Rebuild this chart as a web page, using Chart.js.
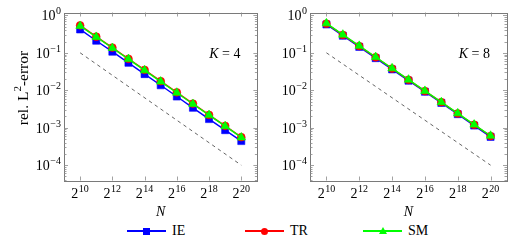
<!DOCTYPE html>
<html lang="en">
<head>
  <meta charset="UTF-8">
  <script src="https://cdn.jsdelivr.net/npm/chart.js"></script>
  <title>rel. L2-error vs N</title>
  <style>
    body { margin: 0; background: #fff; }
    #wrap { position: relative; width: 526px; height: 240px; font-family: "Liberation Serif", "Times New Roman", Times, serif; }
    canvas { position: absolute; top: 0; }
    #c1 { left: 0; }
    #c2 { left: 263px; }
    .lg-line { position: absolute; height: 1.4px; }
    .lg-text { position: absolute; font-size: 14px; line-height: 14px; }
  </style>
</head>
<body>
  <div id="wrap">
    <canvas id="c1" width="263" height="222"></canvas>
    <canvas id="c2" width="263" height="222"></canvas>
    <div id="legend"></div>
  </div>
  <script>
    // Data
    const nValues = [1024, 2048, 4096, 8192, 16384, 32768, 65536, 131072, 262144, 524288, 1048576];

    const ieK4 = [0.42, 0.21, 0.107, 0.054, 0.027, 0.0136, 0.0068, 0.0034, 0.0017, 0.00086, 0.00044];
    const trK4 = [0.54, 0.27, 0.138, 0.069, 0.035, 0.0175, 0.0088, 0.0044, 0.0022, 0.00112, 0.00056];
    const smK4 = [0.52, 0.265, 0.134, 0.068, 0.034, 0.017, 0.0086, 0.0043, 0.00217, 0.0011, 0.00055];

    const ieK8 = [0.57, 0.285, 0.144, 0.072, 0.036, 0.018, 0.0091, 0.0046, 0.0023, 0.00114, 0.00057];
    const trK8 = [0.6, 0.3, 0.151, 0.076, 0.038, 0.019, 0.0095, 0.0048, 0.0024, 0.0012, 0.0006];
    const smK8 = [0.61, 0.305, 0.153, 0.077, 0.0385, 0.0192, 0.0096, 0.0048, 0.00242, 0.00121, 0.00061];

    // dashed reference line, slope -1
    const refN = [1024, 1048576];
    const refErr = [0.1, 0.0001];

    const xTickExp = [10, 12, 14, 16, 18, 20];
    const yTickExp = [0, -1, -2, -3, -4];

    const seriesNames = ['IE', 'TR', 'SM'];
    const seriesColors = ['#0000ff', '#ff0000', '#00ff00'];
    const seriesMarkers = ['rect', 'circle', 'triangle'];

    const FONT = '"Liberation Serif", "Times New Roman", Times, serif';

    function toPoints(xs, ys) {
      return xs.map((x, i) => ({ x: x, y: ys[i] }));
    }

    // draws base^exp, e.g. 10^-2
    function drawPow(ctx, base, exp, x, y, align, size) {
      const sup = Math.round(size * 0.72);
      ctx.font = size + 'px ' + FONT;
      const wb = ctx.measureText(base).width;
      ctx.font = sup + 'px ' + FONT;
      const we = ctx.measureText(exp).width;
      let x0 = x;
      if (align === 'right') x0 = x - wb - we - 0.5;
      if (align === 'center') x0 = x - (wb + we + 0.5) / 2;
      ctx.textAlign = 'left';
      ctx.textBaseline = 'alphabetic';
      ctx.font = size + 'px ' + FONT;
      ctx.fillText(base, x0, y);
      ctx.font = sup + 'px ' + FONT;
      ctx.fillText(exp, x0 + wb + 0.5, y - size * 0.42);
    }

    const axisDecor = {
      id: 'axisDecor',
      afterDraw(chart, args, opts) {
        const { ctx, chartArea: a, scales: { x, y } } = chart;
        ctx.save();
        ctx.fillStyle = '#000';

        // frame
        ctx.strokeStyle = '#7a7a7a';
        ctx.lineWidth = 1;
        ctx.strokeRect(Math.round(a.left) + 0.5, Math.round(a.top) + 0.5,
          Math.round(a.right - a.left), Math.round(a.bottom - a.top));

        // y ticks (major + minor, inside both sides)
        ctx.strokeStyle = '#8a8a8a';
        ctx.lineWidth = 0.8;
        ctx.beginPath();
        for (let e = -5; e <= 0; e++) {
          for (let m = 1; m <= 9; m++) {
            const v = m * Math.pow(10, e);
            if (v < y.min || v > y.max) continue;
            const py = Math.round(y.getPixelForValue(v)) + 0.5;
            const len = m === 1 ? 4 : 2.5;
            ctx.moveTo(a.left, py); ctx.lineTo(a.left + len, py);
            ctx.moveTo(a.right, py); ctx.lineTo(a.right - len, py);
          }
        }
        // x ticks (bottom + top)
        xTickExp.forEach(e => {
          const px = Math.round(x.getPixelForValue(Math.pow(2, e))) + 0.5;
          ctx.moveTo(px, a.bottom); ctx.lineTo(px, a.bottom - 4);
          ctx.moveTo(px, a.top); ctx.lineTo(px, a.top + 4);
        });
        ctx.stroke();

        // tick labels
        yTickExp.forEach(e => {
          const py = y.getPixelForValue(Math.pow(10, e));
          drawPow(ctx, '10', e === 0 ? '0' : '\u2212' + (-e), a.left - 3, py + 5, 'right', 14);
        });
        xTickExp.forEach(e => {
          const px = x.getPixelForValue(Math.pow(2, e));
          drawPow(ctx, '2', String(e), px, a.bottom + 17, 'center', 14);
        });

        // x title
        ctx.font = 'italic 14px ' + FONT;
        ctx.textAlign = 'center';
        ctx.textBaseline = 'alphabetic';
        ctx.fillText('N', (a.left + a.right) / 2, a.bottom + 35);

        // K label
        ctx.textAlign = 'left';
        ctx.font = 'italic 14px ' + FONT;
        const wk = ctx.measureText('K').width;
        ctx.font = '14px ' + FONT;
        const wr = ctx.measureText(' = ' + opts.k).width;
        const kx = a.right - 17 - wk - wr;
        ctx.font = 'italic 14px ' + FONT;
        ctx.fillText('K', kx, a.top + 45);
        ctx.font = '14px ' + FONT;
        ctx.fillText(' = ' + opts.k, kx + wk, a.top + 45);

        // y title
        if (opts.yTitle) {
          ctx.translate(23, 88);
          ctx.rotate(-Math.PI / 2);
          ctx.font = '15.5px ' + FONT;
          const w1 = ctx.measureText('rel. L').width;
          ctx.font = '11px ' + FONT;
          const w2 = ctx.measureText('2').width;
          ctx.font = '15.5px ' + FONT;
          const w3 = ctx.measureText('-error').width;
          const sx = -(w1 + w2 + w3) / 2;
          ctx.textAlign = 'left';
          ctx.fillText('rel. L', sx, 5);
          ctx.font = '11px ' + FONT;
          ctx.fillText('2', sx + w1, -2.5);
          ctx.font = '15.5px ' + FONT;
          ctx.fillText('-error', sx + w1 + w2, 5);
        }
        ctx.restore();
      }
    };

    function makeDatasets(ie, tr, sm) {
      const sets = [ie, tr, sm].map((vals, i) => ({
        label: seriesNames[i],
        data: toPoints(nValues, vals),
        borderColor: seriesColors[i],
        backgroundColor: seriesColors[i],
        borderWidth: 1.4,
        pointStyle: seriesMarkers[i],
        pointRadius: i === 0 ? 5 : (i === 1 ? 3.9 : 5),
        pointBorderWidth: 0.6,
        tension: 0,
        order: 3 - i
      }));
      sets.push({
        label: 'ref',
        data: toPoints(refN, refErr),
        borderColor: '#222',
        borderWidth: 0.7,
        borderDash: [3.5, 3.5],
        pointRadius: 0,
        tension: 0,
        order: 4
      });
      return sets;
    }

    function makeChart(id, k, ie, tr, sm, padding, yTitle) {
      return new Chart(document.getElementById(id), {
        type: 'line',
        data: { datasets: makeDatasets(ie, tr, sm) },
        options: {
          responsive: false,
          animation: false,
          devicePixelRatio: 1,
          layout: { padding: padding },
          plugins: {
            legend: { display: false },
            tooltip: { enabled: false },
            axisDecor: { k: k, yTitle: yTitle }
          },
          scales: {
            x: { type: 'logarithmic', min: 512, max: 2097152, display: false },
            y: { type: 'logarithmic', min: 3.9e-5, max: 1.19, display: false }
          }
        },
        plugins: [axisDecor]
      });
    }

    makeChart('c1', 4, ieK4, trK4, smK4, { left: 64, right: 3, top: 12.5, bottom: 41.5 }, true);
    makeChart('c2', 8, ieK8, trK8, smK8, { left: 47, right: 19, top: 12.5, bottom: 41.5 }, false);

    // legend below both plots
    const legend = document.getElementById('legend');
    const legendX = [127, 245, 363];
    const legendY = 231;
    seriesNames.forEach((name, i) => {
      const x0 = legendX[i];
      const line = document.createElement('div');
      line.className = 'lg-line';
      line.style.left = x0 + 'px';
      line.style.top = (legendY - 0.7) + 'px';
      line.style.width = '39px';
      line.style.background = seriesColors[i];
      legend.appendChild(line);

      const mk = document.createElement('div');
      mk.style.position = 'absolute';
      const cx = x0 + 19.5;
      if (seriesMarkers[i] === 'rect') {
        mk.style.left = (cx - 3.5) + 'px'; mk.style.top = (legendY - 3.5) + 'px';
        mk.style.width = '7px'; mk.style.height = '7px';
        mk.style.background = seriesColors[i];
      } else if (seriesMarkers[i] === 'circle') {
        mk.style.left = (cx - 3.5) + 'px'; mk.style.top = (legendY - 3.5) + 'px';
        mk.style.width = '7px'; mk.style.height = '7px';
        mk.style.borderRadius = '50%';
        mk.style.background = seriesColors[i];
      } else {
        mk.style.left = (cx - 4) + 'px'; mk.style.top = (legendY - 4.5) + 'px';
        mk.style.width = '0'; mk.style.height = '0';
        mk.style.borderLeft = '4px solid transparent';
        mk.style.borderRight = '4px solid transparent';
        mk.style.borderBottom = '7px solid ' + seriesColors[i];
      }
      legend.appendChild(mk);

      const t = document.createElement('div');
      t.className = 'lg-text';
      t.textContent = name;
      t.style.left = (x0 + 45) + 'px';
      t.style.top = (legendY - 7) + 'px';
      legend.appendChild(t);
    });
  </script>
</body>
</html>
